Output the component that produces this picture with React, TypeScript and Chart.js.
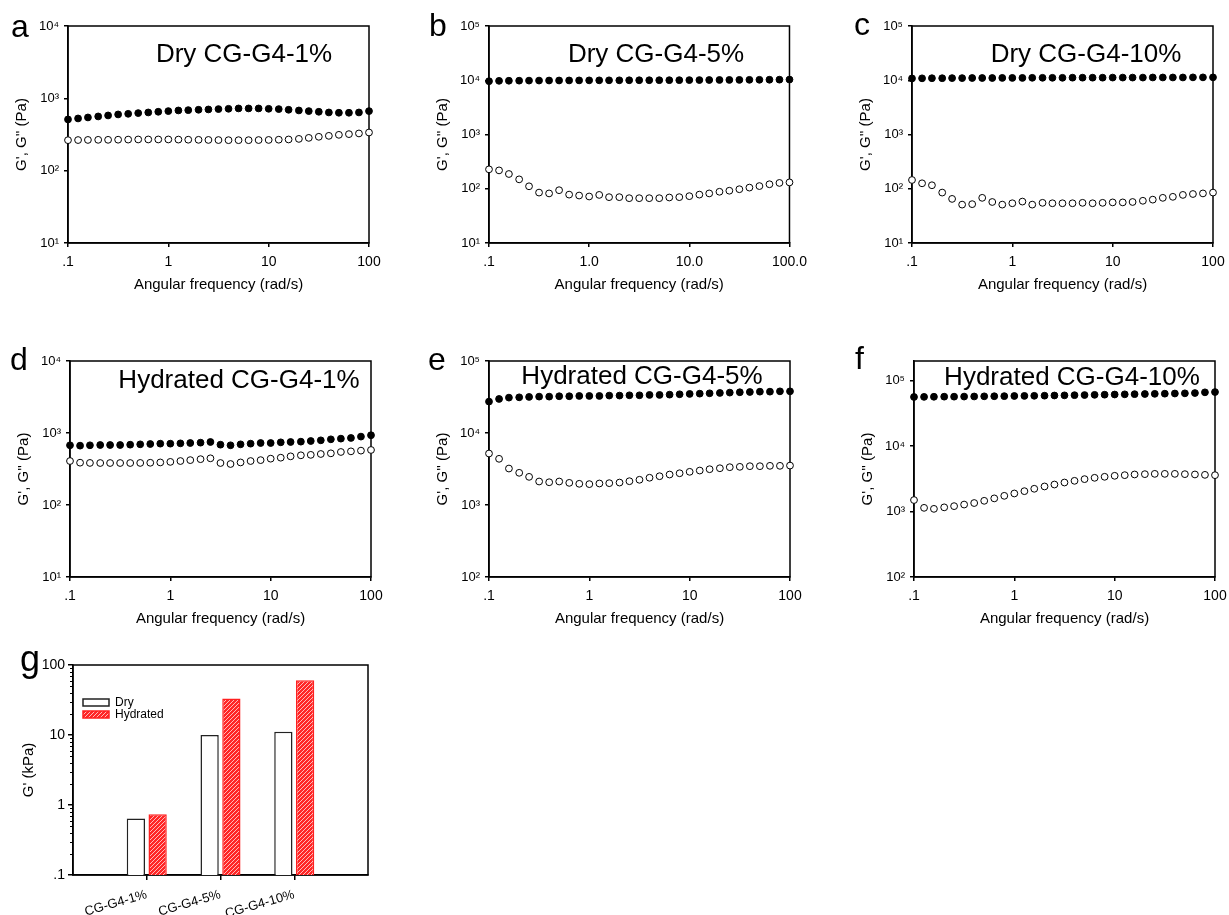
import React, { useEffect, useRef } from 'react';
import { Chart, registerables } from 'chart.js';

Chart.register(...registerables);

const FONT = '"Liberation Sans", Arial, Helvetica, sans-serif';

// Angular frequency (rad/s), 10 points per decade
const freq = [0.1, 0.126, 0.158, 0.2, 0.251, 0.316, 0.398, 0.501, 0.631, 0.794, 1, 1.26, 1.58, 2, 2.51, 3.16, 3.98, 5.01, 6.31, 7.94, 10, 12.6, 15.8, 20, 25.1, 31.6, 39.8, 50.1, 63.1, 79.4, 100];

// Dry CG-G4-1%
const dry1Storage = [511, 527, 544, 562, 580, 599, 611, 625, 638, 652, 666, 680, 687, 695, 702, 710, 717, 725, 725, 725, 717, 710, 695, 680, 666, 652, 638, 632, 632, 638, 666];
const dry1Loss = [264, 265, 266, 267, 267, 268, 269, 270, 270, 270, 270, 269, 268, 267, 266, 265, 264, 264, 264, 265, 266, 268, 270, 275, 284, 294, 303, 313, 320, 327, 337];
// Dry CG-G4-5%
const dry5Storage = [9600, 9750, 9800, 9820, 9850, 9870, 9890, 9900, 9920, 9940, 9950, 9960, 9970, 9980, 9990, 10000, 10010, 10020, 10030, 10040, 10060, 10080, 10100, 10120, 10140, 10160, 10180, 10200, 10220, 10250, 10300];
const dry5Loss = [228, 218, 187, 149, 111, 85, 82, 94, 78, 75, 72, 77, 70, 70, 67, 67, 67, 67, 69, 70, 73, 78, 82, 88, 92, 98, 105, 112, 121, 128, 131];
// Dry CG-G4-10%
const dry10Storage = [10800, 10850, 10900, 10900, 10950, 10950, 11000, 11000, 11000, 11050, 11050, 11050, 11100, 11100, 11100, 11100, 11150, 11150, 11150, 11150, 11200, 11200, 11200, 11200, 11250, 11250, 11250, 11250, 11300, 11300, 11300];
const dry10Loss = [145, 126, 116, 85, 65, 51, 52, 68, 57, 51, 54, 58, 51, 55, 54, 54, 54, 55, 54, 55, 56, 56, 57, 60, 63, 68, 71, 77, 80, 82, 85];
// Hydrated CG-G4-1%
const hyd1Storage = [675, 667, 675, 681, 681, 681, 688, 696, 703, 711, 711, 718, 726, 734, 750, 688, 675, 696, 711, 726, 726, 742, 750, 758, 774, 791, 817, 835, 853, 891, 931];
const hyd1Loss = [408, 387, 384, 383, 383, 383, 383, 384, 386, 390, 397, 408, 420, 433, 445, 383, 371, 390, 408, 420, 440, 454, 474, 490, 497, 511, 522, 545, 556, 569, 581];
// Hydrated CG-G4-5%
const hyd5Storage = [27300, 29700, 31000, 31300, 31700, 32000, 32000, 32400, 32400, 32700, 32700, 32700, 33100, 33100, 33400, 33400, 33800, 33800, 34100, 34500, 34900, 35200, 35600, 36000, 36400, 36800, 37100, 37500, 37500, 37900, 37900];
const hyd5Loss = [5190, 4380, 3210, 2800, 2460, 2120, 2070, 2120, 2030, 1970, 1950, 1990, 2010, 2050, 2140, 2240, 2390, 2510, 2650, 2760, 2890, 3010, 3140, 3240, 3350, 3390, 3460, 3460, 3500, 3500, 3530];
// Hydrated CG-G4-10%
const hyd10Storage = [56400, 56600, 56800, 57000, 57000, 57200, 57400, 57700, 57900, 58100, 58400, 58600, 58800, 59000, 59400, 59700, 60100, 60400, 60800, 61100, 61500, 61900, 62300, 62600, 63000, 63300, 63700, 64100, 64800, 66400, 67100];
const hyd10Loss = [1500, 1140, 1100, 1160, 1210, 1280, 1350, 1460, 1590, 1740, 1890, 2050, 2230, 2420, 2590, 2780, 2950, 3130, 3280, 3400, 3520, 3600, 3690, 3730, 3770, 3770, 3770, 3730, 3690, 3640, 3600];

// Tick values / labels
const xTickValues = [0.1, 1, 10, 100];
const xTickLabels = ['.1', '1', '10', '100'];
const xTickLabelsDecimal = ['.1', '1.0', '10.0', '100.0'];
const yDecades = [10, 100, 1000, 10000, 100000];
const yDecadeLabels = ['10\u00B9', '10\u00B2', '10\u00B3', '10\u2074', '10\u2075'];

// Bar panel (g)
const barCategories = ['CG-G4-1%', 'CG-G4-5%', 'CG-G4-10%'];
const barDry = [0.64, 10.0, 11.1];
const barHydrated = [0.74, 33.2, 60.5];
const barTickValues = [0.1, 1, 10, 100];
const barTickLabels = ['.1', '1', '10', '100'];
const barSeriesNames = ['Dry', 'Hydrated'];

const Y_AXIS_W = 68;
const PAD_TOP = 26;
const X_AXIS_H = 57;

function labelFor(values: number[], labels: string[], v: number) {
  const i = values.findIndex((t) => Math.abs(Math.log10(t) - Math.log10(v)) < 1e-6);
  return i >= 0 ? labels[i] : '';
}

const framePlugin = {
  id: 'frame',
  beforeDatasetsDraw(chart: any) {
    const { ctx, chartArea: a } = chart;
    ctx.save();
    ctx.strokeStyle = '#000';
    ctx.lineWidth = 1.5;
    ctx.strokeRect(a.left, a.top, a.right - a.left, a.bottom - a.top);
    ctx.restore();
  },
};

type ScatterProps = {
  letter: string;
  title: string;
  storage: number[];
  loss: number[];
  yMin: number;
  yMax: number;
  xLabels: string[];
  area: { l: number; r: number; t: number; b: number };
  titlePos: { x: number; y: number };
  letterPos: { x: number; y: number };
};

function ScatterPanel(p: ScatterProps) {
  const ref = useRef<HTMLCanvasElement | null>(null);
  const left = p.area.l - Y_AXIS_W;
  const top = p.area.t - PAD_TOP;
  const plotW = p.area.r - p.area.l;
  const plotH = p.area.b - p.area.t;
  const width = Y_AXIS_W + plotW + 24;
  const height = PAD_TOP + plotH + X_AXIS_H;

  useEffect(() => {
    if (!ref.current) return;
    const textPlugin = {
      id: 'texts',
      afterDraw(chart: any) {
        const ctx = chart.ctx;
        ctx.save();
        ctx.fillStyle = '#000';
        ctx.textBaseline = 'alphabetic';
        ctx.font = `26px ${FONT}`;
        ctx.textAlign = 'center';
        ctx.fillText(p.title, p.titlePos.x - left, p.titlePos.y - top);
        ctx.font = `32px ${FONT}`;
        ctx.textAlign = 'left';
        ctx.fillText(p.letter, p.letterPos.x - left, p.letterPos.y - top);
        ctx.restore();
      },
    };
    const yTicks = yDecades.filter((v) => v >= p.yMin * 0.999 && v <= p.yMax * 1.001);
    const chart = new Chart(ref.current, {
      type: 'scatter',
      data: {
        datasets: [
          {
            label: "G'",
            data: freq.map((x, i) => ({ x, y: p.storage[i] })),
            pointRadius: 3.4,
            pointBackgroundColor: '#000',
            pointBorderColor: '#000',
            pointBorderWidth: 1,
            showLine: false,
            clip: false as any,
          },
          {
            label: "G''",
            data: freq.map((x, i) => ({ x, y: p.loss[i] })),
            pointRadius: 3.4,
            pointBackgroundColor: '#fff',
            pointBorderColor: '#000',
            pointBorderWidth: 1,
            showLine: false,
            clip: false as any,
          },
        ],
      },
      options: {
        animation: false,
        responsive: false,
        events: [],
        layout: { padding: { left: 0, top: PAD_TOP, right: width - Y_AXIS_W - plotW, bottom: 0 } },
        plugins: { legend: { display: false }, tooltip: { enabled: false }, title: { display: false } },
        scales: {
          x: {
            type: 'logarithmic',
            position: 'bottom',
            min: 0.1,
            max: 100,
            afterBuildTicks: (s: any) => {
              s.ticks = xTickValues.map((v) => ({ value: v }));
            },
            afterFit: (s: any) => {
              s.height = X_AXIS_H;
            },
            ticks: {
              autoSkip: false,
              maxRotation: 0,
              color: '#000',
              padding: 7,
              font: { family: FONT, size: 14 },
              callback: (v: any) => labelFor(xTickValues, p.xLabels, Number(v)),
            },
            grid: { display: true, drawOnChartArea: false, drawTicks: true, tickLength: 4, color: '#000', lineWidth: 1.5 },
            border: { display: true, color: '#000', width: 1.5 },
            title: {
              display: true,
              text: 'Angular frequency (rad/s)',
              color: '#000',
              font: { family: FONT, size: 15 },
              padding: { top: 0, bottom: 6 },
            },
          },
          y: {
            type: 'logarithmic',
            position: 'left',
            min: p.yMin,
            max: p.yMax,
            afterBuildTicks: (s: any) => {
              s.ticks = yTicks.map((v) => ({ value: v }));
            },
            afterFit: (s: any) => {
              s.width = Y_AXIS_W;
            },
            ticks: {
              autoSkip: false,
              color: '#000',
              padding: 5,
              font: { family: FONT, size: 13 },
              callback: (v: any) => labelFor(yDecades, yDecadeLabels, Number(v)),
            },
            grid: { display: true, drawOnChartArea: false, drawTicks: true, tickLength: 4, color: '#000', lineWidth: 1.5 },
            border: { display: true, color: '#000', width: 1.5 },
            title: {
              display: true,
              text: "G', G'' (Pa)",
              color: '#000',
              font: { family: FONT, size: 15 },
              padding: { top: 13, bottom: 0 },
            },
          },
        },
      } as any,
      plugins: [framePlugin, textPlugin],
    });
    return () => chart.destroy();
  }, []);

  return (
    <canvas
      ref={ref}
      width={width}
      height={height}
      style={{ position: 'absolute', left, top, width, height }}
    />
  );
}

function BarPanel() {
  const ref = useRef<HTMLCanvasElement | null>(null);
  const area = { l: 73, r: 368, t: 665, b: 875 };
  const left = 0;
  const top = 630;
  const width = 380;
  const height = 285;
  const padTop = area.t - top;
  const yW = area.l - left;
  const xH = height - padTop - (area.b - area.t);

  useEffect(() => {
    if (!ref.current) return;
    const pc = document.createElement('canvas');
    pc.width = 4;
    pc.height = 4;
    const pctx = pc.getContext('2d')!;
    pctx.fillStyle = '#ff2626';
    pctx.fillRect(0, 0, 4, 4);
    pctx.strokeStyle = 'rgba(255,185,185,1)';
    pctx.lineWidth = 1;
    pctx.beginPath();
    pctx.moveTo(0, 4);
    pctx.lineTo(4, 0);
    pctx.moveTo(-1, 1);
    pctx.lineTo(1, -1);
    pctx.moveTo(3, 5);
    pctx.lineTo(5, 3);
    pctx.stroke();
    const pattern = ref.current.getContext('2d')!.createPattern(pc, 'repeat');

    const extrasPlugin = {
      id: 'extras',
      afterDraw(chart: any) {
        const { ctx, chartArea: a } = chart;
        const ys = chart.scales.y;
        ctx.save();
        // minor ticks on log y axis
        ctx.strokeStyle = '#000';
        ctx.lineWidth = 1;
        for (let d = 0; d < barTickValues.length - 1; d++) {
          for (let k = 2; k <= 9; k++) {
            const py = Math.round(ys.getPixelForValue(barTickValues[d] * k)) + 0.5;
            ctx.beginPath();
            ctx.moveTo(a.left - 3, py);
            ctx.lineTo(a.left, py);
            ctx.stroke();
          }
        }
        // legend
        chart.data.datasets.forEach((ds: any, i: number) => {
          const x = a.left + 10;
          const y = a.top + 34 + i * 12;
          ctx.fillStyle = ds.backgroundColor;
          ctx.fillRect(x, y, 26, 7);
          ctx.strokeStyle = ds.borderColor;
          ctx.lineWidth = 1.5;
          ctx.strokeRect(x, y, 26, 7);
          ctx.fillStyle = '#000';
          ctx.font = `12px ${FONT}`;
          ctx.textAlign = 'left';
          ctx.textBaseline = 'middle';
          ctx.fillText(ds.label, x + 32, y + 4);
        });
        // panel letter
        ctx.fillStyle = '#000';
        ctx.font = `36px ${FONT}`;
        ctx.textAlign = 'left';
        ctx.textBaseline = 'alphabetic';
        ctx.fillText('g', 20 - left, 671 - top);
        ctx.restore();
      },
    };

    const chart = new Chart(ref.current, {
      type: 'bar',
      data: {
        labels: ['', ...barCategories, ''],
        datasets: [
          {
            label: barSeriesNames[0],
            data: [null, ...barDry, null],
            backgroundColor: '#ffffff',
            borderColor: '#222222',
            borderWidth: 1.5,
            barPercentage: 0.84,
            categoryPercentage: 0.59,
          },
          {
            label: barSeriesNames[1],
            data: [null, ...barHydrated, null],
            backgroundColor: pattern as any,
            borderColor: '#ff2020',
            borderWidth: 1.5,
            barPercentage: 0.84,
            categoryPercentage: 0.59,
          },
        ],
      },
      options: {
        animation: false,
        responsive: false,
        events: [],
        layout: { padding: { left: 0, top: padTop, right: width - yW - (area.r - area.l), bottom: 0 } },
        plugins: { legend: { display: false }, tooltip: { enabled: false }, title: { display: false } },
        scales: {
          x: {
            type: 'category',
            offset: false,
            afterFit: (s: any) => {
              s.height = xH;
            },
            ticks: {
              autoSkip: false,
              minRotation: 16,
              maxRotation: 16,
              color: '#000',
              padding: 7,
              font: { family: FONT, size: 13 },
            },
            grid: {
              display: true,
              offset: false,
              drawOnChartArea: false,
              drawTicks: true,
              tickLength: 5,
              color: '#000',
              lineWidth: 1.5,
              tickColor: (c: any) => (c.index === 0 || c.index === barCategories.length + 1 ? 'rgba(0,0,0,0)' : '#000'),
            },
            border: { display: true, color: '#000', width: 1.5 },
          },
          y: {
            type: 'logarithmic',
            min: 0.1,
            max: 100,
            afterBuildTicks: (s: any) => {
              s.ticks = barTickValues.map((v) => ({ value: v }));
            },
            afterFit: (s: any) => {
              s.width = yW;
            },
            ticks: {
              autoSkip: false,
              color: '#000',
              padding: 3,
              font: { family: FONT, size: 14 },
              callback: (v: any) => labelFor(barTickValues, barTickLabels, Number(v)),
            },
            grid: { display: true, drawOnChartArea: false, drawTicks: true, tickLength: 5, color: '#000', lineWidth: 1.5 },
            border: { display: true, color: '#000', width: 1.5 },
            title: {
              display: true,
              text: "G' (kPa)",
              color: '#000',
              font: { family: FONT, size: 15 },
              padding: { top: 20, bottom: 0 },
            },
          },
        },
      } as any,
      plugins: [framePlugin, extrasPlugin],
    });
    return () => chart.destroy();
  }, []);

  return (
    <canvas
      ref={ref}
      width={width}
      height={height}
      style={{ position: 'absolute', left, top, width, height }}
    />
  );
}

export default function App() {
  return (
    <div
      style={{
        position: 'absolute',
        left: 0,
        top: 0,
        width: 1229,
        height: 915,
        overflow: 'hidden',
        background: '#fff',
      }}
    >
      <ScatterPanel
        letter="a"
        title="Dry CG-G4-1%"
        storage={dry1Storage}
        loss={dry1Loss}
        yMin={10}
        yMax={10000}
        xLabels={xTickLabels}
        area={{ l: 68, r: 369, t: 26, b: 243 }}
        titlePos={{ x: 244, y: 62 }}
        letterPos={{ x: 11, y: 37 }}
      />
      <ScatterPanel
        letter="b"
        title="Dry CG-G4-5%"
        storage={dry5Storage}
        loss={dry5Loss}
        yMin={10}
        yMax={100000}
        xLabels={xTickLabelsDecimal}
        area={{ l: 489, r: 790, t: 26, b: 243 }}
        titlePos={{ x: 656, y: 62 }}
        letterPos={{ x: 429, y: 36 }}
      />
      <ScatterPanel
        letter="c"
        title="Dry CG-G4-10%"
        storage={dry10Storage}
        loss={dry10Loss}
        yMin={10}
        yMax={100000}
        xLabels={xTickLabels}
        area={{ l: 912, r: 1213, t: 26, b: 243 }}
        titlePos={{ x: 1086, y: 62 }}
        letterPos={{ x: 854, y: 35 }}
      />
      <ScatterPanel
        letter="d"
        title="Hydrated CG-G4-1%"
        storage={hyd1Storage}
        loss={hyd1Loss}
        yMin={10}
        yMax={10000}
        xLabels={xTickLabels}
        area={{ l: 70, r: 371, t: 361, b: 577 }}
        titlePos={{ x: 239, y: 388 }}
        letterPos={{ x: 10, y: 370 }}
      />
      <ScatterPanel
        letter="e"
        title="Hydrated CG-G4-5%"
        storage={hyd5Storage}
        loss={hyd5Loss}
        yMin={100}
        yMax={100000}
        xLabels={xTickLabels}
        area={{ l: 489, r: 790, t: 361, b: 577 }}
        titlePos={{ x: 642, y: 384 }}
        letterPos={{ x: 428, y: 370 }}
      />
      <ScatterPanel
        letter="f"
        title="Hydrated CG-G4-10%"
        storage={hyd10Storage}
        loss={hyd10Loss}
        yMin={100}
        yMax={200000}
        xLabels={xTickLabels}
        area={{ l: 914, r: 1215, t: 361, b: 577 }}
        titlePos={{ x: 1072, y: 385 }}
        letterPos={{ x: 855, y: 369 }}
      />
      <BarPanel />
    </div>
  );
}
